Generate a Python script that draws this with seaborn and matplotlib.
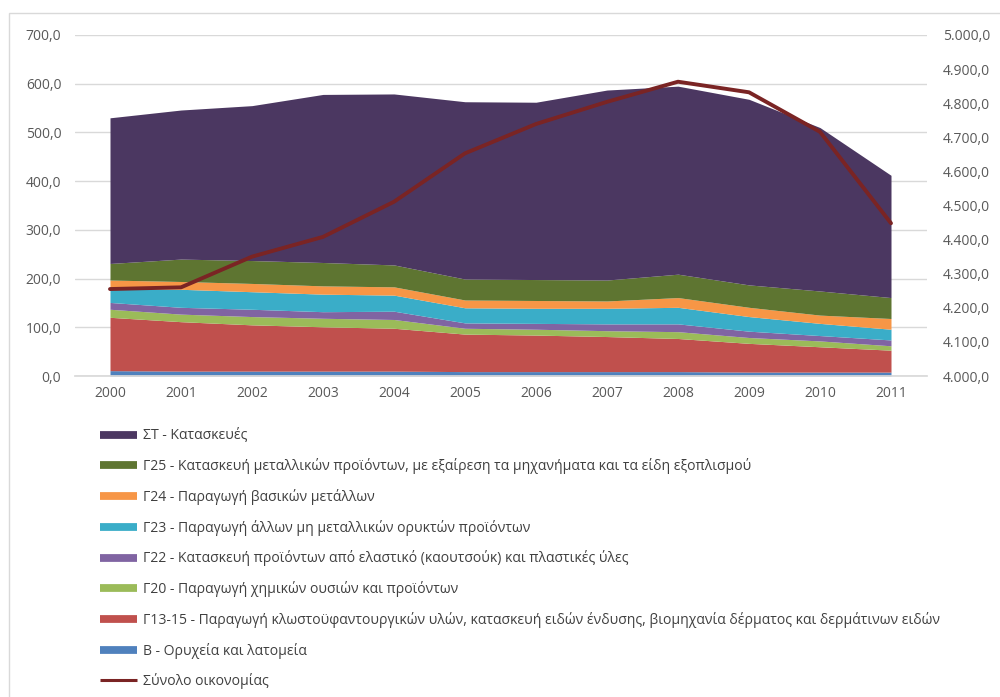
import matplotlib
matplotlib.use("Agg")
import matplotlib.pyplot as plt
from matplotlib.lines import Line2D
from matplotlib.ticker import FuncFormatter, MultipleLocator
import numpy as np
import pandas as pd
import seaborn as sns

# Employment by sector (thousands), stacked; total economy on the right axis
years = [2000, 2001, 2002, 2003, 2004, 2005, 2006, 2007, 2008, 2009, 2010, 2011]

b_mining = [11, 10, 10, 10, 10, 9, 9, 9, 9, 8, 8, 8]
g13_15_textiles = [109.5, 101.5, 95, 91, 88, 77, 75, 72, 68, 59, 52, 45]
g20_chemicals = [16.5, 15.5, 17, 17.5, 18, 12, 12, 12, 14, 12, 12, 9]
g22_rubber = [14, 14, 15, 13.5, 17, 11, 12, 14, 16, 13, 11, 12]
g23_minerals = [29, 37, 36, 36, 33, 31, 31, 32, 34, 30, 25, 22]
g24_metals = [17, 16, 17, 17, 17, 16, 16, 15, 20, 19, 17, 22]
g25_metal_products = [34, 46, 47, 48, 45, 43, 43, 43, 48, 46, 49.5, 43]
st_construction = [299, 306, 318, 345, 351, 364, 364, 390, 386, 381, 335.5, 251]

total_economy = [4255, 4260, 4350, 4408, 4511, 4653, 4739, 4804, 4863, 4832, 4716, 4448]

labels = {
    "st": "ΣΤ - Κατασκευές",
    "g25": "Γ25 - Κατασκευή μεταλλικών προϊόντων, με εξαίρεση τα μηχανήματα και τα είδη εξοπλισμού",
    "g24": "Γ24 - Παραγωγή βασικών μετάλλων",
    "g23": "Γ23 - Παραγωγή άλλων μη μεταλλικών ορυκτών προϊόντων",
    "g22": "Γ22 - Κατασκευή προϊόντων από ελαστικό (καουτσούκ) και πλαστικές ύλες",
    "g20": "Γ20 - Παραγωγή χημικών ουσιών και προϊόντων",
    "g13": "Γ13-15 - Παραγωγή κλωστοϋφαντουργικών υλών, κατασκευή ειδών ένδυσης, βιομηχανία δέρματος και δερμάτινων ειδών",
    "b": "Β - Ορυχεία και λατομεία",
    "total": "Σύνολο οικονομίας",
}

colors = {
    "b": "#4F81BD",
    "g13": "#C0504D",
    "g20": "#9BBB59",
    "g22": "#8064A2",
    "g23": "#3AADC8",
    "g24": "#F79646",
    "g25": "#5E7531",
    "st": "#4B3761",
    "total": "#7A2424",
}

stack_keys = ["b", "g13", "g20", "g22", "g23", "g24", "g25", "st"]
stack_vals = {
    "b": b_mining, "g13": g13_15_textiles, "g20": g20_chemicals, "g22": g22_rubber,
    "g23": g23_minerals, "g24": g24_metals, "g25": g25_metal_products, "st": st_construction,
}

df = pd.DataFrame({"year": years, "total": total_economy})
df["pos"] = np.arange(len(years))

sns.set_theme(style="white")
plt.rcParams["font.family"] = ["Open Sans", "DejaVu Sans"]

fig = plt.figure(figsize=(10, 6.97), dpi=100)
ax = fig.add_axes([0.0745, 1 - 376 / 697, 0.852, 341 / 697])

ax.stackplot(df["pos"], [stack_vals[k] for k in stack_keys],
             colors=[colors[k] for k in stack_keys], linewidth=0, zorder=2)

ax.set_xlim(-0.5, len(years) - 0.5)
ax.set_ylim(0, 700)
ax.yaxis.set_major_locator(MultipleLocator(100))
ax.yaxis.grid(True, color="#D9D9D9", linewidth=1.0, zorder=0)
ax.set_axisbelow(True)
ax.set_xticks(df["pos"])
ax.set_xticklabels([str(y) for y in years])

def el_fmt(v, _pos):
    s = f"{v:,.1f}"
    return s.replace(",", "X").replace(".", ",").replace("X", ".")

ax.yaxis.set_major_formatter(FuncFormatter(el_fmt))
for s in ["top", "right", "left"]:
    ax.spines[s].set_visible(False)
ax.spines["bottom"].set_color("#D9D9D9")
ax.tick_params(axis="y", length=0, pad=9.5, labelsize=10, labelcolor="#595959")
ax.tick_params(axis="x", length=0, pad=7, labelsize=10, labelcolor="#595959")

ax2 = ax.twinx()
sns.lineplot(data=df, x="pos", y="total", ax=ax2, color=colors["total"],
             linewidth=2.8, zorder=3, legend=False)
ax2.set_ylim(4000, 5000)
ax2.yaxis.set_major_locator(MultipleLocator(100))
ax2.yaxis.set_major_formatter(FuncFormatter(el_fmt))
ax2.set_xlim(-0.5, len(years) - 0.5)
ax2.set_xlabel("")
ax2.set_ylabel("")
ax2.grid(False)
for s in ax2.spines.values():
    s.set_visible(False)
ax2.tick_params(axis="y", length=0, pad=12, labelsize=10, labelcolor="#595959")

# outer chart frame
frame = plt.Rectangle((9 / 1000, -0.1), 1.2, 1 - 13 / 697 + 0.1, transform=fig.transFigure,
                      fill=False, edgecolor="#D9D9D9", linewidth=1.0)
fig.add_artist(frame)

legend_order = ["st", "g25", "g24", "g23", "g22", "g20", "g13", "b"]
handles = [Line2D([0], [0], color=colors[k], linewidth=5.6, solid_capstyle="butt")
           for k in legend_order]
handles.append(Line2D([0], [0], color=colors["total"], linewidth=2.2, solid_capstyle="butt"))
leg_labels = [labels[k] for k in legend_order] + [labels["total"]]

fig.legend(handles, leg_labels, loc="upper left", bbox_to_anchor=(0.1, 1 - 428.5 / 697),
           frameon=False, fontsize=10.1, labelcolor="#404040", handlelength=2.62,
           handletextpad=0.42, labelspacing=1.05, borderaxespad=0, borderpad=0)

fig.savefig("out.png", dpi=100)
